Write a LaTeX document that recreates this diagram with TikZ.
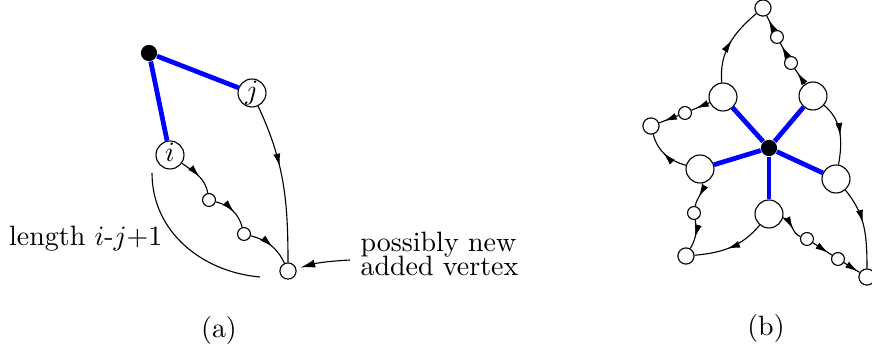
\documentclass[tikz,border=0pt]{standalone}
\usepackage{amsmath,amssymb}
\usepackage{tikz}
\usepackage{xcolor}
\usetikzlibrary{arrows.meta,decorations.markings}

\begin{document}
\begin{tikzpicture}[x=14.3pt,y=14.3pt,
  vtx/.style={circle,draw,fill=white,inner sep=0pt,line width=0.4pt},
  lbl/.style={vtx,minimum size=10pt,text height=4.5pt,text depth=0pt},
  big/.style={vtx,minimum size=10pt},
  med/.style={vtx,minimum size=5.8pt},
  sml/.style={vtx,minimum size=4.6pt},
  root/.style={circle,fill=black,inner sep=0pt,minimum size=5.8pt},
  spoke/.style={blue,line width=1.7pt},
  flow/.style={line width=0.4pt,postaction={decorate},
    decoration={markings,mark=at position #1 with {\arrow{Latex[length=4.6pt,width=2.5pt]}}}},
  flow/.default=0.55]
\useasboundingbox (0,0) rectangle (21.8,8.8);

% (a)
\node[root] (r) at (3.725,7.475) {};
\node[lbl] (j) at (6.3,6.475) {$j$};
\node[lbl] (i) at (4.25,4.925) {$i$};
\node[sml] (a1) at (5.225,3.8) {};
\node[sml] (a2) at (6.1,2.95) {};
\node[med] (v) at (7.2,2.025) {};
\draw[spoke] (r) -- (j);
\draw[spoke] (r) -- (i);
\draw[flow] (i) to[out=-35,in=100] (a1);
\draw[flow] (a1) to[out=-15,in=105] (a2);
\draw[flow] (a2) to[out=-15,in=115] (v);
\draw[flow=0.4] (j) to[out=-65,in=90] (v);
\coordinate (s) at (3.8,4.475);
\coordinate (e) at (6.5,1.875);
\draw[line width=0.4pt] (s) to[out=-90,in=175] (e);
\node[anchor=base east,inner sep=0pt] (len) at (4.075,2.65) {length $i$-$j$+1};
\node[anchor=west,inner sep=0pt,align=left] (new) at (9.0,2.45) {possibly new\\[-3.5pt]added vertex};
\coordinate (p) at (8.75,2.3);
\draw[line width=0.4pt,-{Latex[length=5.3pt,width=2.9pt]},shorten >=1.5pt] (p) to[bend right=6] (v);
\node (capa) at (5.475,0.525) {(a)};

% (b)
\node[root] (c) at (19.225,5.1) {};
\node[big] (ul) at (18.075,6.375) {};
\node[big] (ur) at (20.325,6.4) {};
\node[big] (rt) at (20.9,4.325) {};
\node[big] (bt) at (19.225,3.45) {};
\node[big] (lt) at (17.5,4.575) {};
\node[med] (top) at (19.075,8.6) {};
\node[sml] (t1) at (19.425,7.875) {};
\node[sml] (t2) at (19.775,7.225) {};
\node[med] (fl) at (16.275,5.65) {};
\node[sml] (l1) at (17.125,5.975) {};
\node[sml] (l2) at (17.35,3.475) {};
\node[med] (bl) at (17.15,2.4) {};
\node[sml] (b1) at (20.175,2.825) {};
\node[sml] (b2) at (20.95,2.325) {};
\node[med] (br) at (21.675,1.875) {};
\foreach \n in {ul,ur,rt,bt,lt}
  \draw[spoke] (c) -- (\n);
\draw[flow] (ul) to[out=95,in=-140] (top);
\draw[flow=0.75] (ur) -- (t2);
\draw[flow=0.8] (t2) -- (t1);
\draw[flow=0.75] (t1) -- (top);
\draw[flow] (ur) to[out=-40,in=80] (rt);
\draw[flow=0.45] (rt) to[out=-50,in=90] (br);
\draw[flow=0.6] (bt) to[out=-15,in=160] (b1);
\draw[flow=0.8] (b1) -- (b2);
\draw[flow=0.9] (b2) -- (br);
\draw[flow] (bt) to[out=-130,in=5] (bl);
\draw[flow=0.6] (lt) to[out=-80,in=80] (l2);
\draw[flow=0.6] (l2) to[out=-80,in=60] (bl);
\draw[flow] (lt) to[out=165,in=-75] (fl);
\draw[flow=0.75] (ul) -- (l1);
\draw[flow=0.75] (l1) -- (fl);
\node (capb) at (19.15,0.575) {(b)};

\end{tikzpicture}
\end{document}
